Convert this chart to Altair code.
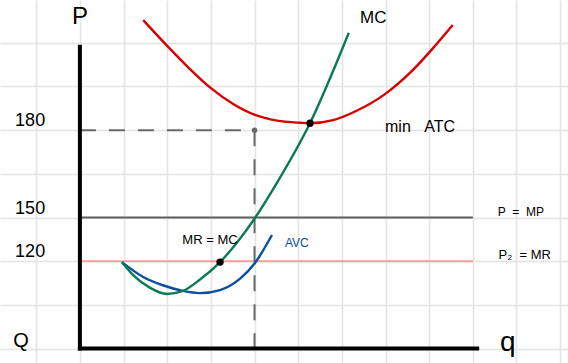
import altair as alt
import pandas as pd

# Cost curves, in grid units (quantity across, price up)
atc_q = [1.45, 2.00, 2.48, 2.98, 3.51, 4.01, 4.51, 5.05, 5.27, 5.80, 6.35, 6.98, 7.63, 8.09, 8.54]
atc_p = [7.52, 6.93, 6.44, 5.98, 5.60, 5.35, 5.22, 5.17, 5.16, 5.23, 5.45, 5.82, 6.38, 6.88, 7.41]

mc_q = [0.96, 1.22, 1.61, 1.99, 2.36, 2.75, 3.21, 3.60, 4.01, 4.54, 5.27, 6.16]
mc_p = [1.98, 1.68, 1.39, 1.25, 1.32, 1.58, 1.98, 2.43, 2.99, 3.84, 5.16, 7.23]

avc_q = [0.96, 1.45, 1.90, 2.36, 2.75, 3.21, 3.67, 4.01, 4.40]
avc_p = [1.98, 1.64, 1.45, 1.32, 1.27, 1.34, 1.60, 1.96, 2.60]

# Price levels and where they sit on the price axis
price_levels = [180, 150, 120]
price_y = [5, 3, 2]

# Output at MR = MC, axis extents
q_star = 4
q_max = 9.0
p_axis_top = 6.91
q_axis_right = 9.1

# Marked points
dot_q = [5.27, 3.21]
dot_p = [5.16, 1.98]

grid_x = list(range(-1, 12))
grid_y = list(range(0, 8))

xs = alt.Scale(domain=[-1.83, 11.18], nice=False, zero=False)
ys = alt.Scale(domain=[-0.33, 7.98], nice=False, zero=False)

GRID = dict(grid=True, labels=False, ticks=False, domain=False, title=None,
            gridColor="#e4e4e4", gridWidth=1.6, gridOpacity=1)

NB = "\u00a0"


def X(field="x"):
    return alt.X(f"{field}:Q", scale=xs, axis=alt.Axis(values=grid_x, **GRID))


def Y(field="y"):
    return alt.Y(f"{field}:Q", scale=ys, axis=alt.Axis(values=grid_y, **GRID))


def curve(qs, ps, color):
    df = pd.DataFrame({"x": qs, "y": ps})
    return alt.Chart(df).mark_line(
        color=color, strokeWidth=2.4, interpolate="monotone"
    ).encode(x=X(), y=Y(), order="x:Q")


def label(text, x, y, size, color="black", font="Liberation Sans", baseline="middle"):
    df = pd.DataFrame({"x": [x], "y": [y], "t": [text]})
    return alt.Chart(df).mark_text(
        fontSize=size, color=color, font=font, baseline=baseline, align="center"
    ).encode(x=X(), y=Y(), text="t:N")


# Horizontal price lines: P = MP at 150, P2 = MR at 120
hlines = pd.DataFrame({
    "x": [0, 0], "x2": [q_max, q_max],
    "y": [price_y[1], price_y[2]],
    "c": ["mp", "mr"],
})
price_lines = alt.Chart(hlines).mark_rule(strokeWidth=2).encode(
    x=X(), x2="x2:Q", y=Y(),
    color=alt.Color("c:N", scale=alt.Scale(domain=["mp", "mr"], range=["#5e5e5e", "#ff9c9c"]), legend=None),
)

# Dashed guides from the ATC price level down to q*
guides = pd.DataFrame({
    "x": [0, q_star], "x2": [q_star, q_star],
    "y": [price_y[0], price_y[0]], "y2": [price_y[0], 0],
})
dashed = alt.Chart(guides).mark_rule(strokeWidth=2, color="#6a6a6a", strokeDash=[16, 13]).encode(
    x=X(), x2="x2:Q", y=Y(), y2="y2:Q"
)
guide_dot = alt.Chart(pd.DataFrame({"x": [q_star], "y": [price_y[0]]})).mark_circle(
    size=30, color="#6a6a6a", opacity=1
).encode(x=X(), y=Y())

# Axes
axes_df = pd.DataFrame({
    "x": [0, 0], "x2": [0, q_axis_right],
    "y": [0, 0], "y2": [p_axis_top, 0],
})
axes = alt.Chart(axes_df).mark_rule(strokeWidth=4, color="black", strokeCap="square").encode(
    x=X(), x2="x2:Q", y=Y(), y2="y2:Q"
)

dots = alt.Chart(pd.DataFrame({"x": dot_q, "y": dot_p})).mark_circle(
    size=55, color="black", opacity=1
).encode(x=X(), y=Y())

tick_labels = alt.Chart(pd.DataFrame({"x": [-1.14] * 3, "y": [v + 0.2 for v in price_y], "t": price_levels})).mark_text(
    fontSize=18, font="Liberation Sans", color="black", baseline="middle", align="center"
).encode(x=X(), y=Y(), text="t:N")

layers = [
    price_lines,
    dashed,
    guide_dot,
    curve(atc_q, atc_p, "#d70000"),
    curve(avc_q, avc_p, "#0b4f9f"),
    curve(mc_q, mc_p, "#0d7a57"),
    axes,
    dots,
    tick_labels,
    label("P", 0.0, 7.59, 24),
    label("Q", -1.35, 0.17, 20),
    label("q", 9.8, -0.06, 28, baseline="alphabetic"),
    label("MC", 6.72, 7.57, 17),
    label(f"min{NB}{NB}{NB}ATC", 7.79, 5.07, 16),
    label(f"MR{NB}={NB}MC", 2.98, 2.48, 13),
    label("AVC", 4.97, 2.42, 12, color="#0b4f9f"),
    label(f"P{NB}{NB}={NB}{NB}MP", 10.1, 3.12, 12),
    label(f"P₂{NB}{NB}={NB}MR", 10.19, 2.14, 13),
]

chart = alt.layer(*layers).properties(
    width=568, height=363, padding=0, autosize=alt.AutoSizeParams(type="none"),
    background="white",
).configure_view(stroke=None)

chart.save("out.html", embed_options={"renderer": "svg", "actions": False})
